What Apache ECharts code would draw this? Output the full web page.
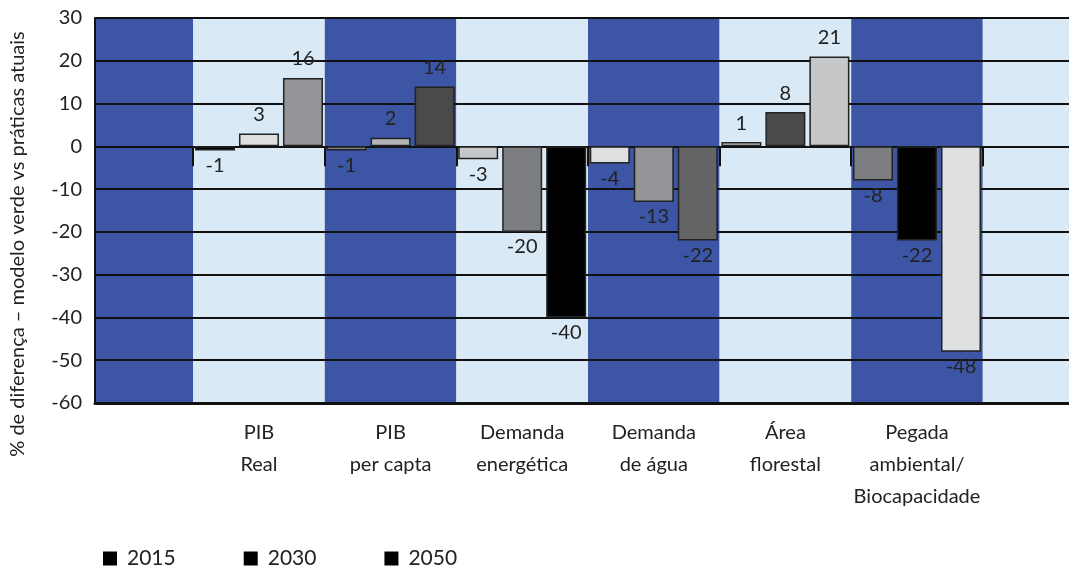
<!DOCTYPE html>
<html>
<head>
<meta charset="utf-8">
<script src="https://cdn.jsdelivr.net/npm/echarts@6/dist/echarts.min.js"></script>
<style>
  html, body { margin: 0; padding: 0; background: #fff; }
  #chart { width: 1069px; height: 569px; }
</style>
</head>
<body>
<div id="chart"></div>
<script>
// categorias (posição 0..5 no eixo x)
const categories = ['PIB\nReal', 'PIB\nper capta', 'Demanda\nenergética', 'Demanda\nde água', 'Área\nflorestal', 'Pegada\nambiental/\nBiocapacidade']
const years = ['2015', '2030', '2050']

const values2015 = [-1, -1, -3, -4, 1, -8]
const values2030 = [3, 2, -20, -13, 8, -22]
const values2050 = [16, 14, -40, -22, 21, -48]

// cada barra tem a sua própria cor no original
const colors2015 = ['#000000', '#7c7d80', '#c6c7c9', '#dedfe1', '#c6c7c9', '#7c7d80']
const colors2030 = ['#dedfe1', '#b3b4b6', '#7c7d80', '#939598', '#4a4a4a', '#000000']
const colors2050 = ['#939598', '#4a4a4a', '#000000', '#646567', '#c6c7c9', '#dedfe1']

const yTicks = [-60, -50, -40, -30, -20, -10, 0, 10, 20, 30]

const darkBlue = '#3c55a5'
const lightBlue = '#d9e9f6'
const font = 'Lato'

const xMin = -1.246
const xMax = 6.155

function makeData(values, colors) {
  return values.map((v, i) => ({
    value: [i, v],
    itemStyle: { color: colors[i] },
    label: { position: v < 0 ? 'bottom' : 'top', distance: v < 0 ? 5 : 9 }
  }))
}

function barSeries(name, values, colors) {
  return {
    name: name,
    type: 'bar',
    xAxisIndex: 0,
    z: 2,
    barWidth: 40,
    barGap: '10%',
    itemStyle: { color: '#000', borderColor: '#222', borderWidth: 1.5 },
    label: {
      show: true,
      fontFamily: font,
      fontSize: 20,
      color: '#222',
      formatter: p => p.value[1]
    },
    data: makeData(values, colors)
  }
}

// faixas verticais de fundo
const stripeEdges = [xMin, -0.5, 0.5, 1.5, 2.5, 3.5, 4.5, 5.5, xMax]
const stripes = []
for (let i = 0; i < stripeEdges.length - 1; i++) {
  stripes.push([
    { xAxis: stripeEdges[i], itemStyle: { color: i % 2 === 0 ? darkBlue : lightBlue } },
    { xAxis: stripeEdges[i + 1] }
  ])
}

const chart = echarts.init(document.getElementById('chart'))

chart.setOption({
  animation: false,
  grid: { left: 95, right: 0, top: 18, bottom: 166 },
  legend: {
    data: years,
    left: 98,
    top: 543,
    itemWidth: 14,
    itemHeight: 14,
    itemGap: 68,
    icon: 'rect',
    itemStyle: { color: '#000', borderWidth: 0 },
    textStyle: { fontFamily: font, fontSize: 21, color: '#222', padding: [0, 0, 0, 5] }
  },
  xAxis: [
    {
      type: 'value',
      min: xMin,
      max: xMax,
      z: 1,
      axisLine: { show: true, onZero: true, lineStyle: { color: '#111', width: 2 } },
      axisTick: {
        show: true,
        customValues: [-0.5, 0.5, 1.5, 2.5, 3.5, 4.5, 5.5],
        length: 20,
        lineStyle: { color: '#111', width: 2 }
      },
      axisLabel: { show: false },
      splitLine: { show: false }
    },
    {
      type: 'value',
      min: xMin,
      max: xMax,
      position: 'bottom',
      z: 1,
      axisLine: { show: true, onZero: false, lineStyle: { color: '#111', width: 3 } },
      axisTick: { show: false },
      axisLabel: {
        customValues: [0, 1, 2, 3, 4, 5],
        formatter: v => categories[Math.round(v)],
        fontFamily: font,
        fontSize: 20,
        lineHeight: 32,
        color: '#222',
        margin: 14,
        verticalAlign: 'top'
      },
      splitLine: { show: false }
    }
  ],
  yAxis: {
    type: 'value',
    min: yTicks[0],
    max: yTicks[yTicks.length - 1],
    interval: 10,
    z: 1,
    axisLine: { show: true, onZero: false, lineStyle: { color: '#111', width: 2 } },
    axisTick: { show: false },
    axisLabel: { fontFamily: font, fontSize: 20, color: '#222', margin: 13 },
    splitLine: { show: true, lineStyle: { color: '#111', width: 2 } }
  },
  graphic: [{
    type: 'text',
    x: 18,
    y: 244,
    rotation: Math.PI / 2,
    style: {
      text: '% de diferença – modelo verde vs práticas atuais',
      fontFamily: font,
      fontSize: 20,
      fill: '#222',
      align: 'center',
      verticalAlign: 'middle'
    }
  }],
  series: [
    {
      name: 'fundo',
      type: 'line',
      xAxisIndex: 0,
      z: 0,
      data: [],
      silent: true,
      markArea: { silent: true, z: 0, data: stripes }
    },
    barSeries(years[0], values2015, colors2015),
    barSeries(years[1], values2030, colors2030),
    barSeries(years[2], values2050, colors2050)
  ]
})
</script>
</body>
</html>
